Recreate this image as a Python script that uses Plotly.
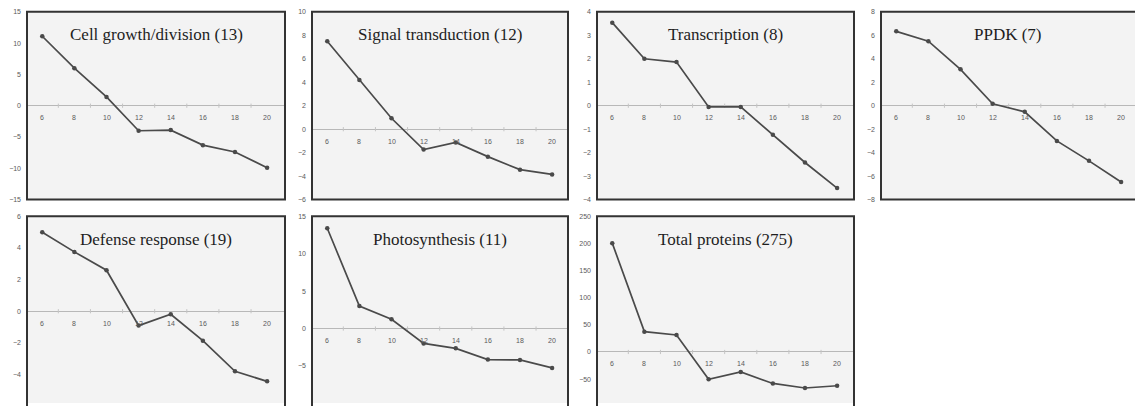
import plotly.graph_objects as go

# ---------------- data ----------------
days = [6, 8, 10, 12, 14, 16, 18, 20]
boundary_days = [7, 9, 11, 13, 15, 17, 19]

cell_growth = [11.1, 6.0, 1.4, -4.0, -3.9, -6.3, -7.4, -9.9]
signal_transduction = [7.5, 4.2, 0.93, -1.74, -1.13, -2.34, -3.45, -3.86]
transcription = [3.54, 2.0, 1.86, -0.05, -0.05, -1.24, -2.42, -3.51]
ppdk = [6.34, 5.5, 3.1, 0.17, -0.52, -3.0, -4.7, -6.5]
defense_response = [4.99, 3.75, 2.59, -0.91, -0.19, -1.86, -3.8, -4.43]
photosynthesis = [13.4, 3.0, 1.24, -1.99, -2.65, -4.15, -4.2, -5.26]
total_proteins = [200.5, 37.5, 31.4, -50.2, -36.8, -58.0, -66.4, -62.2]

panel_titles = ["Cell growth/division (13)", "Signal transduction (12)",
                "Transcription (8)", "PPDK (7)", "Defense response (19)",
                "Photosynthesis (11)", "Total proteins (275)"]
panel_series = [cell_growth, signal_transduction, transcription, ppdk,
                defense_response, photosynthesis, total_proteins]
y_ticks = [
    [-15, -10, -5, 0, 5, 10, 15],
    [-6, -4, -2, 0, 2, 4, 6, 8, 10],
    [-4, -3, -2, -1, 0, 1, 2, 3, 4],
    [-8, -6, -4, -2, 0, 2, 4, 6, 8],
    [-6, -4, -2, 0, 2, 4, 6],
    [-10, -5, 0, 5, 10, 15],
    [-100, -50, 0, 50, 100, 150, 200, 250],
]

# ---------------- layout geometry ----------------
W, H = 1135, 406
col_px = [(27, 285), (312, 568), (597, 854), (881, 1135)]
row_px = [(8, 199), (216, 406)]
y_ranges = [[-15, 15], [-6, 10], [-4, 4], [-8, 8], [-5.8, 6], [-9.95, 15], [-94, 250]]
x_left = 5.05
px_per_unit = 16.06

fig = go.Figure()
layout = dict(
    width=W, height=H,
    margin=dict(l=0, r=0, t=0, b=0),
    paper_bgcolor="white",
    plot_bgcolor="#f3f3f3",
    showlegend=False,
)
annotations = []
shapes = []

line_col = "#4a4a4a"
tick_font = dict(family="Liberation Sans, Arial, sans-serif", size=7, color="#5a5a5a")

for i, (title, ys) in enumerate(zip(panel_titles, panel_series)):
    r, c = divmod(i, 4)
    x0p, x1p = col_px[c]
    y0p, y1p = row_px[r]
    n = "" if i == 0 else str(i + 1)
    xa, ya = "x" + n, "y" + n
    x_right = x_left + (x1p - x0p) / px_per_unit
    layout["xaxis" + n] = dict(
        domain=[x0p / W, min(x1p / W, 1.0)], range=[x_left, x_right],
        showticklabels=False, showgrid=False, zeroline=False, showline=False,
        ticks="", anchor=ya, fixedrange=True,
    )
    layout["yaxis" + n] = dict(
        domain=[max(1 - y1p / H, 0.0), 1 - y0p / H], range=y_ranges[i],
        tickvals=y_ticks[i], ticks="", showgrid=False, zeroline=True,
        zerolinecolor="#b8b8b8", zerolinewidth=1, showline=False,
        tickfont=tick_font, anchor=xa, ticklabelstandoff=5, fixedrange=True,
    )
    # small boundary ticks on the zero line
    fig.add_trace(go.Scatter(
        x=boundary_days, y=[0] * len(boundary_days), xaxis=xa, yaxis=ya,
        mode="markers", hoverinfo="skip",
        marker=dict(symbol="line-ns", size=3, line=dict(color="#c4c4c4", width=1)),
    ))
    # data line
    fig.add_trace(go.Scatter(
        x=days, y=ys, xaxis=xa, yaxis=ya, mode="lines+markers",
        line=dict(color=line_col, width=1.7),
        marker=dict(size=4.5, color=line_col),
    ))
    # x tick labels on the zero line
    for d in days:
        annotations.append(dict(
            x=d, y=0, xref=xa, yref=ya, text=str(d), showarrow=False,
            yshift=-12, font=tick_font,
        ))
    # panel title
    annotations.append(dict(
        x=0.5, y=1, xref=xa + " domain", yref=ya + " domain", text=title,
        showarrow=False, yanchor="middle", yshift=-23,
        font=dict(family="Liberation Serif, Times New Roman, serif", size=17, color="#1e1e1e"),
    ))
    # frame
    shapes.append(dict(
        type="rect", xref=xa + " domain", yref=ya + " domain",
        x0=0, x1=1 if c < 3 else 1.05, y0=0 if r == 0 else -0.05, y1=1,
        line=dict(color="#333333", width=2), fillcolor="rgba(0,0,0,0)", layer="above",
    ))

layout["annotations"] = annotations
layout["shapes"] = shapes
fig.update_layout(**layout)
fig.write_html("out.html")
